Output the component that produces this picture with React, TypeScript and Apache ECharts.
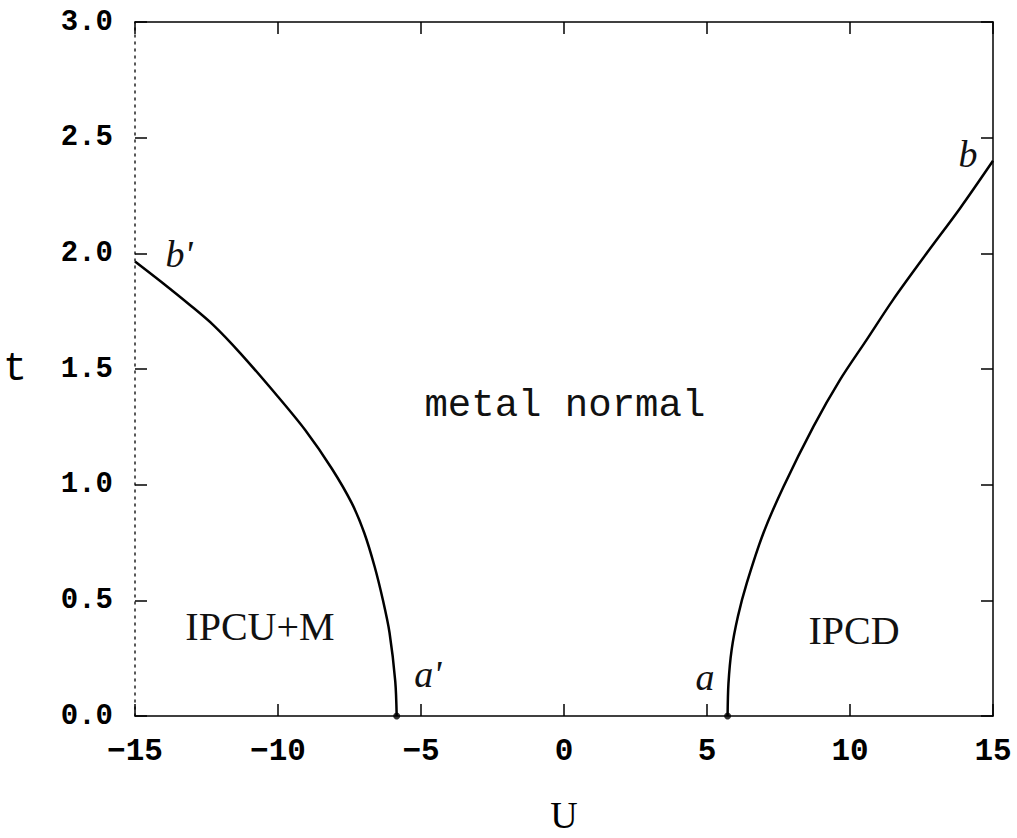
import React, { useEffect, useRef } from "react";
import * as echarts from "echarts";

// Axis ranges and tick steps
const uMin = -15;
const uMax = 15;
const uStep = 5;
const tMin = 0;
const tMax = 3;
const tStep = 0.5;

// Phase boundary between the normal metal and the IPCD phase (U > 0), points [U, t]
const boundaryIPCD: [number, number][] = [
  [5.72, 0],
  [5.75, 0.14],
  [5.86, 0.285],
  [6.08, 0.43],
  [6.39, 0.574],
  [6.97, 0.79],
  [7.67, 0.99],
  [8.72, 1.251],
  [9.65, 1.453],
  [10.58, 1.626],
  [11.51, 1.8],
  [12.68, 2.0],
  [13.85, 2.195],
  [15.0, 2.4],
];

// Phase boundary between the normal metal and the IPCU+M phase (U < 0), points [U, t]
const boundaryIPCU: [number, number][] = [
  [-5.85, 0],
  [-5.9, 0.15],
  [-6.1, 0.36],
  [-6.33, 0.5],
  [-6.62, 0.645],
  [-6.98, 0.79],
  [-7.42, 0.92],
  [-8.12, 1.07],
  [-9.05, 1.236],
  [-10.0, 1.38],
  [-11.33, 1.57],
  [-12.26, 1.69],
  [-13.08, 1.777],
  [-14.01, 1.87],
  [-15, 1.965],
];

// Text placed inside the diagram, anchored in data coordinates [U, t]
const phaseNames = ["metal normal", "IPCU+M", "IPCD"];
const phaseAnchors: [number, number][] = [
  [0.03, 1.34],
  [-10.63, 0.385],
  [10.14, 0.368],
];
const pointNames = ["a'", "a", "b'", "b"];
const pointAnchors: [number, number][] = [
  [-4.76, 0.18],
  [4.93, 0.17],
  [-13.46, 1.995],
  [14.13, 2.43],
];

const formatU = (v: number) => (v < 0 ? "\u2212" + Math.abs(v) : String(v));
const formatT = (v: number) => v.toFixed(1);

export default function App() {
  const ref = useRef<HTMLDivElement>(null);

  useEffect(() => {
    if (!ref.current) return;
    const chart = echarts.init(ref.current, undefined, { renderer: "svg" });

    const frameLine = (type: any = "solid", color = "#000") => ({
      show: true,
      onZero: false,
      lineStyle: { color, width: 1.5, type },
    });
    const tick = { show: true, inside: true, length: 12, lineStyle: { color: "#000", width: 1.5 } };

    chart.setOption({
      animation: false,
      backgroundColor: "#fff",
      grid: {
        left: 135,
        right: 24,
        top: 22,
        bottom: 122,
        containLabel: false,
        outerBoundsMode: "none",
      },
      xAxis: [
        {
          type: "value",
          min: uMin,
          max: uMax,
          interval: uStep,
          position: "bottom",
          axisLine: frameLine(),
          axisTick: tick,
          splitLine: { show: false },
          axisLabel: {
            margin: 20,
            formatter: formatU,
            color: "#000",
            fontFamily: "'Liberation Mono'",
            fontWeight: "bold",
            fontSize: 31,
          },
          name: "U",
          nameLocation: "middle",
          nameGap: 80,
          nameTextStyle: { fontFamily: "'Liberation Serif'", fontSize: 38, color: "#000" },
        },
        {
          type: "value",
          min: uMin,
          max: uMax,
          interval: uStep,
          position: "top",
          axisLine: frameLine(),
          axisTick: tick,
          splitLine: { show: false },
          axisLabel: { show: false },
        },
      ],
      yAxis: [
        {
          type: "value",
          min: tMin,
          max: tMax,
          interval: tStep,
          position: "left",
          axisLine: frameLine([2, 5], "#222"),
          axisTick: tick,
          splitLine: { show: false },
          axisLabel: {
            margin: 22,
            formatter: formatT,
            color: "#000",
            fontFamily: "'Liberation Mono'",
            fontWeight: "bold",
            fontSize: 29,
          },
          name: "t",
          nameLocation: "middle",
          nameRotate: 0,
          nameGap: 108,
          nameTextStyle: { fontFamily: "'Liberation Mono'", fontSize: 40, color: "#000" },
        },
        {
          type: "value",
          min: tMin,
          max: tMax,
          interval: tStep,
          position: "right",
          axisLine: frameLine(),
          axisTick: tick,
          splitLine: { show: false },
          axisLabel: { show: false },
        },
      ],
      series: [
        {
          name: "IPCD boundary",
          type: "line",
          data: boundaryIPCD,
          smooth: 0.3,
          showSymbol: false,
          lineStyle: { color: "#000", width: 2.5 },
          clip: false,
        },
        {
          name: "IPCU+M boundary",
          type: "line",
          data: boundaryIPCU,
          smooth: 0.3,
          showSymbol: false,
          lineStyle: { color: "#000", width: 2.5 },
          clip: false,
        },
        {
          name: "critical points",
          type: "scatter",
          data: [boundaryIPCD[0], boundaryIPCU[0]],
          symbol: "circle",
          symbolSize: 7,
          itemStyle: { color: "#000" },
          clip: false,
        },
      ],
    });

    const toPx = (p: [number, number]) => chart.convertToPixel({ gridIndex: 0 }, p) as number[];

    const texts: any[] = [];
    phaseNames.forEach((name, i) => {
      const [x, y] = toPx(phaseAnchors[i]);
      const mono = i === 0;
      texts.push({
        type: "text",
        x,
        y,
        style: {
          text: name,
          fill: "#111",
          fontFamily: mono ? "'Liberation Mono'" : "'Liberation Serif'",
          fontSize: mono ? 39 : 40,
          align: "center",
          verticalAlign: "middle",
        },
      });
    });
    pointNames.forEach((name, i) => {
      const [x, y] = toPx(pointAnchors[i]);
      texts.push({
        type: "text",
        x,
        y,
        style: {
          text: name,
          fill: "#111",
          fontFamily: "'Liberation Serif'",
          fontStyle: "italic",
          fontSize: 38,
          align: "center",
          verticalAlign: "middle",
        },
      });
    });
    chart.setOption({ graphic: texts });

    return () => chart.dispose();
  }, []);

  return (
    <div
      ref={ref}
      style={{ position: "fixed", left: 0, top: 0, width: 1017, height: 838, background: "#fff" }}
    />
  );
}
